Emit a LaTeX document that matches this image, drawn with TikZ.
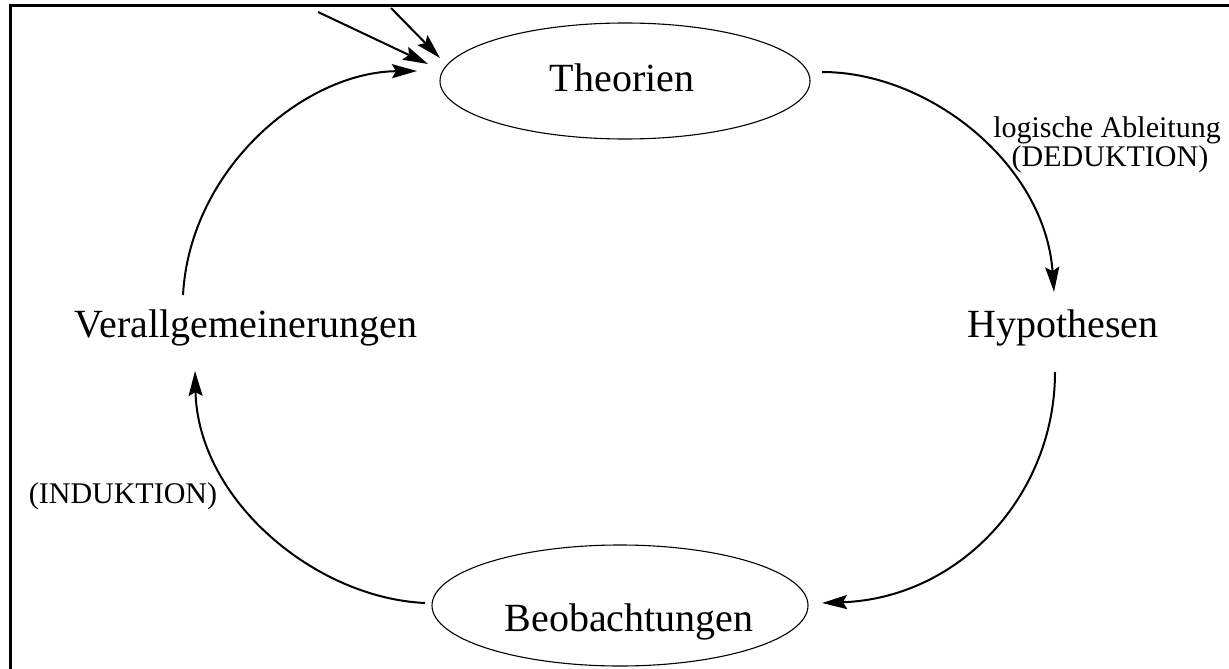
\documentclass[tikz,border=0pt]{standalone}
\usepackage{fontspec}
\setmainfont{Liberation Serif}
\usetikzlibrary{arrows.meta,shapes.geometric}
\begin{document}
\begin{tikzpicture}[x=1pt,y=1pt,
  big/.style={font=\fontsize{40}{45}\selectfont, inner sep=0pt, anchor=base},
  small/.style={font=\fontsize{30}{34}\selectfont, inner sep=0pt, anchor=base},
  oval/.style={draw, ellipse, line width=1.1pt, inner sep=0pt},
  conn/.style={line width=2pt, -{Stealth[length=25pt,width=14pt,inset=4pt]}},
  frame/.style={line width=2.6pt}]
\useasboundingbox (0,0) rectangle (1229,-669);
% frame (only left and top edges are visible)
\coordinate (fa) at (10.5,-700);
\coordinate (fb) at (10.5,-5.5);
\coordinate (fc) at (1300,-5.5);
\draw[frame] (fa) -- (fb) -- (fc);
% ellipses
\node[oval, minimum width=370pt, minimum height=116pt] (theo) at (625,-81) {};
\node[oval, minimum width=376pt, minimum height=121pt] (beob) at (620,-605.5) {};
% texts
\node[big] (theoT) at (622,-92) {Theorien};
\node[big] (beobT) at (629,-631) {Beobachtungen};
\node[big] (hypo) at (1063,-337) {Hypothesen};
\node[big] (verall) at (246,-337) {Verallgemeinerungen};
\node[small] (lab1) at (1107,-137) {logische Ableitung};
\node[small] (lab2) at (1110,-166) {(DEDUKTION)};
\node[small] (lab3) at (123,-503) {(INDUKTION)};
% connector end points
\coordinate (t1) at (822,-72);
\coordinate (h1) at (1054,-292);
\coordinate (h2) at (1055,-372);
\coordinate (b1) at (822,-603);
\coordinate (b2) at (425,-603);
\coordinate (v1) at (195,-371);
\coordinate (v2) at (183,-295);
\coordinate (t2) at (417,-71);
\coordinate (s1) at (318,-12);
\coordinate (e1) at (428,-64);
\coordinate (s2) at (391,-8);
\coordinate (e2) at (440,-58);
% connectors
\draw[conn] (t1) .. controls (930,-72) and (1045,-165) .. (h1);
\draw[conn] (h2) .. controls (1055,-495) and (960,-598) .. (b1);
\draw[conn] (b2) .. controls (315,-598) and (198,-500) .. (v1);
\draw[conn] (v2) .. controls (190,-168) and (305,-72) .. (t2);
\draw[conn] (s1) -- (e1);
\draw[conn] (s2) -- (e2);
\end{tikzpicture}
\end{document}
